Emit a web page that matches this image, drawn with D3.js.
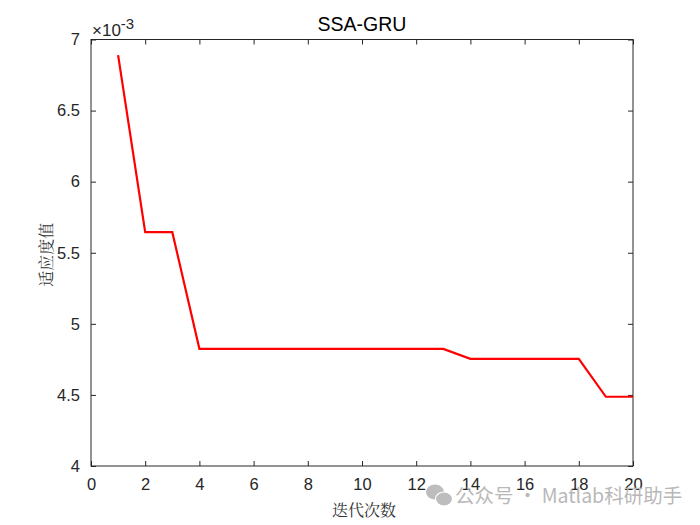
<!DOCTYPE html>
<html><head><meta charset="utf-8">
<script src="https://cdn.jsdelivr.net/npm/d3@7"></script>
<style>body{margin:0;background:#fff}svg{display:block}</style>
</head><body>
<svg id="c" width="700" height="525"></svg>
<script>
const iterations = [1,2,3,4,5,6,7,8,9,10,11,12,13,14,15,16,17,18,19,20];
const fitness = [6.89,5.645,5.645,4.824,4.824,4.824,4.824,4.824,4.824,4.824,4.824,4.824,4.824,4.754,4.754,4.754,4.754,4.754,4.487,4.487];
const xTicks = [0,2,4,6,8,10,12,14,16,18,20];
const yTicks = [4,4.5,5,5.5,6,6.5,7];
const yTickLabels = ["4","4.5","5","5.5","6","6.5","7"];
const title = "SSA-GRU";
const xLabel = "迭代次数";
const yLabel = "适应度值";

const svg = d3.select("#c");
const L=91, R=633, T=39.5, B=466;
const x = d3.scaleLinear().domain([0,20]).range([L,R]);
const y = d3.scaleLinear().domain([4,7]).range([B,T]);
const font = "'Liberation Sans', Arial, sans-serif";
const tk = 5;

svg.append("rect").attr("x",L).attr("y",T).attr("width",R-L).attr("height",B-T)
  .attr("fill","#fff").attr("stroke","#262626").attr("stroke-width",1);

const gx = svg.append("g").attr("transform",`translate(0,${B})`)
  .call(d3.axisBottom(x).tickValues(xTicks).tickSize(-tk).tickPadding(12).tickFormat(d3.format("d")));
const gxt = svg.append("g").attr("transform",`translate(0,${T})`)
  .call(d3.axisTop(x).tickValues(xTicks).tickSize(-tk).tickFormat(""));
const gy = svg.append("g").attr("transform",`translate(${L},0)`)
  .call(d3.axisLeft(y).tickValues(yTicks).tickSize(-tk).tickPadding(11).tickFormat((d,i)=>yTickLabels[i]));
const gyr = svg.append("g").attr("transform",`translate(${R},0)`)
  .call(d3.axisRight(y).tickValues(yTicks).tickSize(-tk).tickFormat(""));
[gx,gxt,gy,gyr].forEach(g=>{
  g.select(".domain").remove();
  g.selectAll("line").attr("stroke","#262626");
  g.selectAll("text").attr("font-family",font).attr("font-size",16.5).attr("fill","#262626");
});

const line = d3.line().x((d,i)=>x(iterations[i])).y(d=>y(d));
svg.append("path").datum(fitness).attr("d",line).attr("fill","none")
  .attr("stroke","#ff0000").attr("stroke-width",2.2).attr("stroke-linejoin","miter");

svg.append("text").attr("x",(L+R)/2).attr("y",31).attr("text-anchor","middle")
  .attr("font-family",font).attr("font-size",19.5).attr("fill","#000").text(title);

const ex = svg.append("text").attr("x",92).attr("y",36).attr("font-family",font).attr("font-size",17).attr("fill","#262626");
ex.append("tspan").text("×10");
ex.append("tspan").attr("dy",-7).attr("font-size",15).text("-3");

svg.append("text").attr("x",(L+R)/2+2).attr("y",516).attr("text-anchor","middle")
  .attr("font-family","'Noto Serif CJK SC','Noto Sans CJK SC',serif").attr("font-size",16).attr("fill","#333").text(xLabel);
svg.append("text").attr("transform",`translate(52,${(T+B)/2 + 2}) rotate(-90)`).attr("text-anchor","middle")
  .attr("font-family","'Noto Serif CJK SC','Noto Sans CJK SC',serif").attr("font-size",16).attr("fill","#333").text(yLabel);

// watermark
const wm = svg.append("g");
wm.append("ellipse").attr("cx",435).attr("cy",492).attr("rx",9).attr("ry",7.5).attr("fill","#bdbdbd");
wm.append("ellipse").attr("cx",444).attr("cy",499).attr("rx",8.5).attr("ry",7).attr("fill","#bdbdbd").attr("stroke","#fff").attr("stroke-width",1.2);
wm.append("text").attr("x",455).attr("y",503).attr("font-family","'Noto Sans CJK SC','Noto Sans',sans-serif")
  .attr("font-size",19.5).attr("fill","#b8b8b8").text("公众号 · Matlab科研助手");
</script>
</body></html>
